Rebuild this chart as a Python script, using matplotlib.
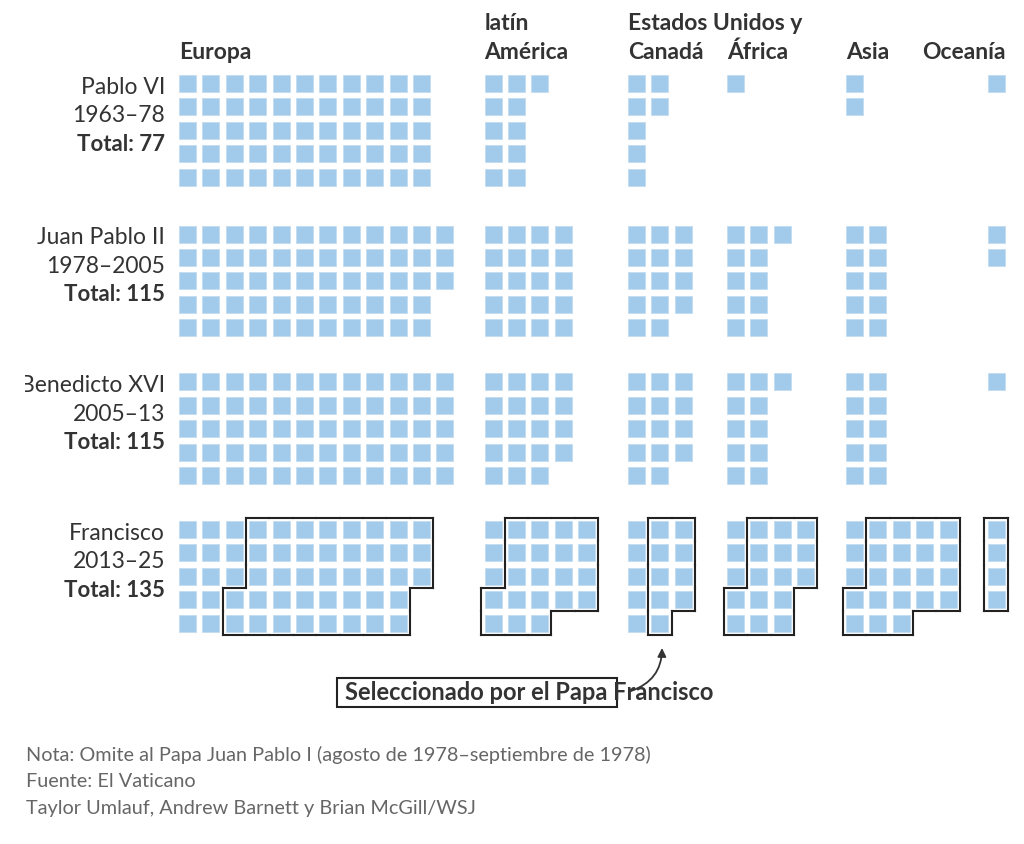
import matplotlib
matplotlib.use("Agg")
import matplotlib.pyplot as plt
from matplotlib.patches import Rectangle
from matplotlib.collections import LineCollection

# ---------------- data ----------------
regions = ["Europa", "latín\nAmérica", "Estados Unidos y\nCanadá", "África", "Asia", "Oceanía"]
popes = ["Pablo VI", "Juan Pablo II", "Benedicto XVI", "Francisco"]
years = ["1963–78", "1978–2005", "2005–13", "2013–25"]
totals = [77, 115, 115, 135]

# cardinals shown per grid row (5 rows) for each region
pablo_vi = [[11, 11, 11, 11, 11], [3, 2, 2, 2, 2], [2, 2, 1, 1, 1],
            [1, 0, 0, 0, 0], [1, 1, 0, 0, 0], [1, 0, 0, 0, 0]]
juan_pablo_ii = [[12, 12, 12, 11, 11], [4, 4, 4, 4, 4], [3, 3, 3, 3, 2],
                 [3, 2, 2, 2, 2], [2, 2, 2, 2, 2], [1, 1, 0, 0, 0]]
benedicto_xvi = [[12, 12, 12, 12, 12], [4, 4, 4, 4, 3], [3, 3, 3, 3, 2],
                 [3, 2, 2, 2, 2], [2, 2, 2, 2, 2], [1, 0, 0, 0, 0]]
francisco = [[11, 11, 11, 10, 10], [5, 5, 5, 5, 3], [3, 3, 3, 3, 2],
             [4, 4, 4, 3, 3], [5, 5, 5, 5, 3], [1, 1, 1, 1, 0]]
# Francisco electors NOT named by Francisco (first cells, column by column)
francisco_not_selected = [13, 3, 5, 3, 3, 0]

notes = ["Nota: Omite al Papa Juan Pablo I (agosto de 1978–septiembre de 1978)",
         "Fuente: El Vaticano",
         "Taylor Umlauf, Andrew Barnett y Brian McGill/WSJ"]

# ---------------- layout / style ----------------
W, H = 1024, 845
CELL = 17.0
PITCH = 23.4
HALF = (PITCH - CELL) / 2
group_x = [179, 484.5, 628, 727, 846, 987.5]
block_top = [76, 226.5, 374.3, 522]
SQ = "#a2caeb"
TXT = "#333333"
GREY = "#666666"
FONT = ["Lato", "DejaVu Sans"]

fig = plt.figure(figsize=(W / 100, H / 100), dpi=100)
ax = fig.add_axes([0, 0, 1, 1])
ax.set_xlim(0, W)
ax.set_ylim(H, 0)
ax.axis("off")

grids = [pablo_vi, juan_pablo_ii, benedicto_xvi, francisco]
label_clip = Rectangle((24.5, 0), W, H, transform=ax.transData)


def cells_of(rows):
    out = []
    for r, n in enumerate(rows):
        for c in range(n):
            out.append((c, r))
    out.sort()  # column-major order
    return out


for p, grid in enumerate(grids):
    top = block_top[p]
    for g, rows in enumerate(grid):
        gx = group_x[g]
        cells = cells_of(rows)
        for (c, r) in cells:
            ax.add_patch(Rectangle((gx + c * PITCH, top + r * PITCH), CELL, CELL,
                                   facecolor=SQ, edgecolor="#c4dcf1", lw=0.6, zorder=2))
        if p == 3:
            sel = set(cells[francisco_not_selected[g]:])
            segs = []
            for (c, r) in sel:
                x0 = gx + c * PITCH - HALF
                x1 = x0 + PITCH
                y0 = top + r * PITCH - HALF
                y1 = y0 + PITCH
                if (c, r - 1) not in sel:
                    segs.append([(x0, y0), (x1, y0)])
                if (c, r + 1) not in sel:
                    segs.append([(x0, y1), (x1, y1)])
                if (c - 1, r) not in sel:
                    segs.append([(x0, y0), (x0, y1)])
                if (c + 1, r) not in sel:
                    segs.append([(x1, y0), (x1, y1)])
            lc = LineCollection(segs, colors="#222222", linewidths=1.5,
                                capstyle="projecting", zorder=3)
            ax.add_collection(lc)

    # row labels
    t1 = ax.text(165, top + 18, popes[p], ha="right", va="baseline", fontsize=16.5,
                 color=TXT, family=FONT)
    t1.set_clip_path(label_clip)
    t1.set_clip_on(True)
    ax.text(165, top + 46.5, years[p], ha="right", va="baseline", fontsize=16.5,
            color=TXT, family=FONT)
    ax.text(165, top + 75, f"Total: {totals[p]}", ha="right", va="baseline",
            fontsize=16, fontweight="bold", color=TXT, family=FONT)

# headers
for g, name in enumerate(regions):
    lines = name.split("\n")
    if g == len(regions) - 1:
        ax.text(group_x[g] + CELL + 1, 59, name, ha="right", va="baseline",
                fontsize=16.5, fontweight="bold", color=TXT, family=FONT)
        continue
    for i, line in enumerate(reversed(lines)):
        ax.text(group_x[g], 59 - i * 29, line, ha="left", va="baseline",
                fontsize=16.5, fontweight="bold", color=TXT, family=FONT)

# annotation
ax.add_patch(Rectangle((336.5, 679), 280.5, 28.5, facecolor="none",
                       edgecolor="#222222", lw=1.5, zorder=4))
ax.text(345, 700.5, "Seleccionado por el Papa Francisco", ha="left", va="baseline",
        fontsize=17, fontweight="bold", color=TXT, family=FONT, zorder=5)
ax.annotate("", xy=(662, 649), xytext=(631, 692),
            arrowprops=dict(arrowstyle="-|>,head_length=0.5,head_width=0.25",
                            connectionstyle="arc3,rad=0.35", color="#333333",
                            lw=1.3, shrinkA=0, shrinkB=0), zorder=5)

# footer
for i, line in enumerate(notes):
    ax.text(26, 761 + i * 26.5, line, ha="left", va="baseline", fontsize=14.3,
            color=GREY, family=FONT)

fig.savefig("out.png", dpi=100, facecolor="white")
